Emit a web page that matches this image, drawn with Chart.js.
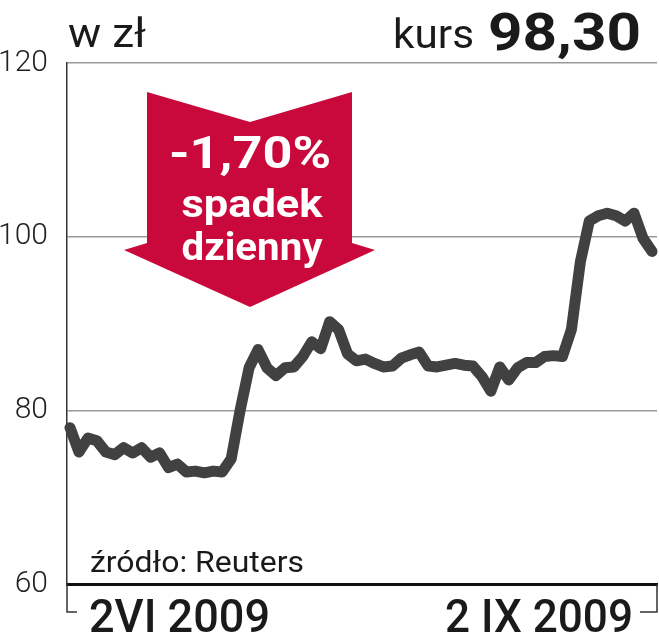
<!DOCTYPE html>
<html>
<head>
<meta charset="utf-8">
<script src="https://cdn.jsdelivr.net/npm/chart.js@4/dist/chart.umd.min.js"></script>
<style>
  html, body { margin: 0; padding: 0; background: #ffffff; }
  #wrap { width: 659px; height: 640px; position: relative; }
</style>
</head>
<body>
<div id="wrap"><canvas id="c" width="659" height="640"></canvas></div>
<script>
// ---- data (daily closes, 2 VI 2009 .. 2 IX 2009) ----
const prices = [
  78.0, 75.2, 76.8, 76.5, 75.2, 74.9, 75.7, 75.1, 75.7, 74.6,
  75.1, 73.4, 73.8, 72.9, 73.0, 72.8, 73.0, 72.9, 74.4, 80.0,
  84.9, 87.0, 84.9, 84.0, 84.9, 85.0, 86.2, 87.9, 87.1, 90.2,
  89.3, 86.5, 85.7, 85.9, 85.4, 85.0, 85.1, 86.0, 86.4, 86.7,
  85.1, 85.0, 85.2, 85.4, 85.2, 85.1, 83.9, 82.2, 85.0, 83.5,
  84.9, 85.5, 85.5, 86.2, 86.3, 86.2, 89.3, 97.1, 101.8, 102.4,
  102.7, 102.4, 101.8, 102.7, 99.8, 98.3
];
const dayIndex = prices.map((_, i) => i);
const yTicks = [60, 80, 100, 120];
const xEdgeLabels = ['2VI 2009', '2 IX 2009'];
const unitLabel = 'w zł';
const priceLabel = 'kurs';
const lastPrice = '98,30';
const changeLines = ['-1,70%', 'spadek', 'dzienny'];
const sourceLabel = 'źródło: Reuters';

const NARROW = '"Liberation Sans Narrow", Roboto, "Liberation Sans", Arial, sans-serif';
const BOLD = 'Roboto, "Liberation Sans", Arial, sans-serif';

function fitText(ctx, text, x, y, font, width, color, align) {
  ctx.save();
  ctx.font = font;
  const w = ctx.measureText(text).width;
  const sx = width / w;
  let left = x;
  if (align === 'center') left = x - width / 2;
  if (align === 'right') left = x - width;
  ctx.translate(left, y);
  ctx.scale(sx, 1);
  ctx.fillStyle = color;
  ctx.textAlign = 'left';
  ctx.textBaseline = 'alphabetic';
  ctx.fillText(text, 0, 0);
  ctx.restore();
}

const decor = {
  id: 'decor',
  afterDatasetsDraw(chart) {
    const ctx = chart.ctx;
    // arrow annotation
    ctx.save();
    ctx.fillStyle = '#c9093b';
    ctx.beginPath();
    ctx.moveTo(147, 92);
    ctx.lineTo(250, 122);
    ctx.lineTo(352, 92);
    ctx.lineTo(352, 243);
    ctx.lineTo(375, 250);
    ctx.lineTo(250, 307);
    ctx.lineTo(124, 250);
    ctx.lineTo(147, 243);
    ctx.closePath();
    ctx.fill();
    ctx.restore();
    fitText(ctx, changeLines[0], 250, 168, 'bold 44px ' + BOLD, 162, '#ffffff', 'center');
    fitText(ctx, changeLines[1], 252, 217, 'bold 38px ' + BOLD, 141, '#ffffff', 'center');
    fitText(ctx, changeLines[2], 252, 260, 'bold 38px ' + BOLD, 141, '#ffffff', 'center');
  },
  afterDraw(chart) {
    const ctx = chart.ctx;
    const ca = chart.chartArea;
    // header
    fitText(ctx, unitLabel, 68, 47, '40px ' + NARROW, 78, '#1a1a1a', 'left');
    fitText(ctx, priceLabel, 393, 48, '40px ' + NARROW, 81, '#1a1a1a', 'left');
    fitText(ctx, lastPrice, 488, 50, 'bold 52px ' + BOLD, 153, '#1a1a1a', 'left');
    // source
    fitText(ctx, sourceLabel, 90, 572, '30px ' + NARROW, 214, '#1a1a1a', 'left');
    // x edge labels with brackets
    fitText(ctx, xEdgeLabels[0], 89, 632, '500 46px ' + NARROW, 181, '#1a1a1a', 'left');
    fitText(ctx, xEdgeLabels[1], 633, 632, '500 46px ' + NARROW, 188, '#1a1a1a', 'right');
    ctx.save();
    ctx.strokeStyle = '#333333';
    ctx.lineWidth = 1.5;
    ctx.beginPath();
    ctx.moveTo(ca.left, ca.bottom);
    ctx.lineTo(ca.left, 612);
    ctx.lineTo(ca.left + 10, 612);
    ctx.moveTo(ca.right, ca.bottom);
    ctx.lineTo(ca.right, 612);
    ctx.lineTo(ca.right - 17, 612);
    ctx.stroke();
    ctx.restore();
  }
};

new Chart(document.getElementById('c'), {
  type: 'line',
  data: {
    datasets: [{
      data: dayIndex.map((d, i) => ({ x: d, y: prices[i] })),
      borderColor: '#414141',
      borderWidth: 11,
      pointRadius: 0,
      tension: 0,
      borderJoinStyle: 'round',
      borderCapStyle: 'round',
      clip: false
    }]
  },
  options: {
    responsive: false,
    animation: false,
    layout: { padding: { top: 63, right: 2, left: 0, bottom: 0 } },
    plugins: { legend: { display: false }, tooltip: { enabled: false } },
    scales: {
      x: {
        type: 'linear',
        min: -0.335,
        max: 65.56,
        ticks: { display: false },
        grid: { display: false, drawTicks: false },
        border: { display: true, color: '#111111', width: 3 },
        afterFit(s) { s.height = 56; }
      },
      y: {
        min: 60,
        max: 120,
        afterBuildTicks(s) { s.ticks = yTicks.map(v => ({ value: v })); },
        ticks: {
          color: '#222222',
          padding: 19,
          font: { family: 'Roboto, "Liberation Sans", Arial, sans-serif', size: 30, weight: 300 },
          callback: v => String(v)
        },
        grid: { color: '#9a9a9a', lineWidth: 1.5, drawTicks: false },
        border: { display: true, color: '#333333', width: 1.5 },
        afterFit(s) { s.width = 67; }
      }
    }
  },
  plugins: [decor]
});
</script>
</body>
</html>
